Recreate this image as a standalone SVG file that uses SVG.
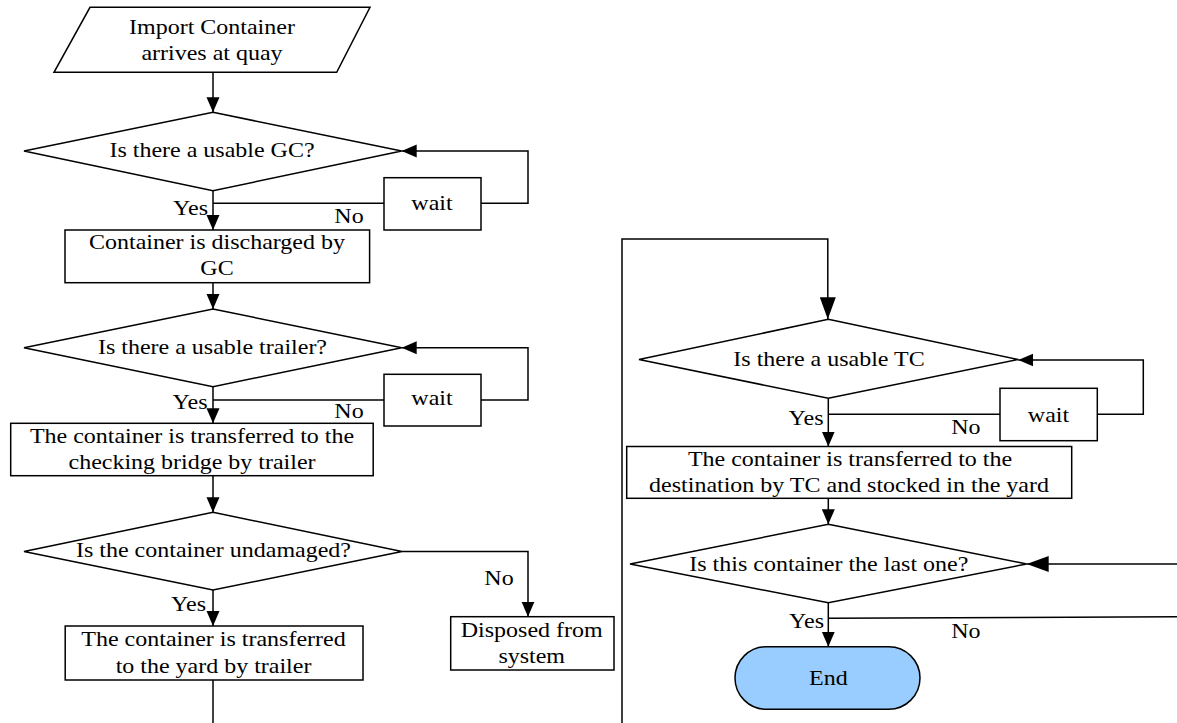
<svg xmlns="http://www.w3.org/2000/svg" width="1177" height="723" viewBox="0 0 1177 723">
<style>
.s{fill:#fff;stroke:#000;stroke-width:1.5}
.c{fill:none;stroke:#000;stroke-width:1.5}
text{font-family:"Liberation Serif","Times New Roman",serif;font-size:21.5px;fill:#000}
.m{text-anchor:middle}
.e{text-anchor:end}
</style>
<defs>
<marker id="a" markerUnits="userSpaceOnUse" markerWidth="16" markerHeight="14" refX="15" refY="7" orient="auto"><path d="M0,0.5 L15,7 L0,13.5 z" fill="#000"/></marker>
<marker id="b" markerUnits="userSpaceOnUse" markerWidth="23" markerHeight="16" refX="22" refY="8" orient="auto"><path d="M0,0 L22,8 L0,16 z" fill="#000"/></marker>
</defs>
<rect width="1177" height="723" fill="#fff"/>
<g id="connectors">
<path class="c" d="M213,72.3 V112.3" marker-end="url(#a)"/>
<path class="c" d="M213,190.7 V230" marker-end="url(#a)"/>
<path class="c" d="M213,203.3 H384"/>
<path class="c" d="M481,203.3 H528 V151 H401.7" marker-end="url(#a)"/>
<path class="c" d="M213,282.7 V309" marker-end="url(#a)"/>
<path class="c" d="M213,386.7 V423.3" marker-end="url(#a)"/>
<path class="c" d="M213,400 H384"/>
<path class="c" d="M481,400 H528 V347.7 H401.7" marker-end="url(#a)"/>
<path class="c" d="M213,475.7 V512.3" marker-end="url(#a)"/>
<path class="c" d="M213,590 V626" marker-end="url(#a)"/>
<path class="c" d="M402,551.5 H528 V616.7" marker-end="url(#a)"/>
<path class="c" d="M213,680 V723"/>
<path class="c" d="M622,723 V239 H827.8 V319.3" marker-end="url(#b)"/>
<path class="c" d="M828.3,398.3 V446.5" marker-end="url(#a)"/>
<path class="c" d="M828.3,414.3 H1000"/>
<path class="c" d="M1097.3,414.3 H1143.3 V360 H1018.3" marker-end="url(#a)"/>
<path class="c" d="M828.3,498.3 V524.3" marker-end="url(#a)"/>
<path class="c" d="M828.3,602.7 V646.7" marker-end="url(#a)"/>
<path class="c" d="M828.3,618.3 L1177,616.7"/>
<path class="c" d="M1177,564 H1026.7" marker-end="url(#b)"/>
</g>
<g id="start">
<polygon class="s" points="90,7.3 370,7.3 336.7,72.3 54,72.3"/>
<text class="m" transform="translate(212,34) scale(1.116,1)">Import Container</text>
<text class="m" transform="translate(212,60) scale(1.116,1)">arrives at quay</text>
</g>
<g id="d_gc">
<polygon class="s" points="213,112.3 401.7,151 213,190.7 24,151"/>
<text class="m" transform="translate(212,157.3) scale(1.116,1)">Is there a usable GC?</text>
</g>
<g id="wait1">
<rect class="s" x="384" y="177.7" width="97" height="52.3"/>
<text class="m" transform="translate(432,210) scale(1.116,1)">wait</text>
</g>
<g id="r_discharge">
<rect class="s" x="65" y="230" width="304.6" height="52.7"/>
<text class="m" transform="translate(217,249.3) scale(1.116,1)">Container is discharged by</text>
<text class="m" transform="translate(217,275) scale(1.116,1)">GC</text>
</g>
<g id="d_trailer">
<polygon class="s" points="213,309 401.7,347.7 213,386.7 24,347.7"/>
<text class="m" transform="translate(212.5,354.3) scale(1.116,1)">Is there a usable trailer?</text>
</g>
<g id="wait2">
<rect class="s" x="384" y="374.3" width="97" height="51.7"/>
<text class="m" transform="translate(432,405) scale(1.116,1)">wait</text>
</g>
<g id="r_bridge">
<rect class="s" x="10.7" y="423.3" width="362.5" height="52.4"/>
<text class="m" transform="translate(192,442.7) scale(1.116,1)">The container is transferred to the</text>
<text class="m" transform="translate(192,469.3) scale(1.116,1)">checking bridge by trailer</text>
</g>
<g id="d_undamaged">
<polygon class="s" points="213,512.3 402,551.5 213,590 24,551.5"/>
<text class="m" transform="translate(213.5,557.3) scale(1.116,1)">Is the container undamaged?</text>
</g>
<g id="r_yard">
<rect class="s" x="65.2" y="626" width="297.8" height="54"/>
<text class="m" transform="translate(213.5,646) scale(1.116,1)">The container is transferred</text>
<text class="m" transform="translate(213.5,672.7) scale(1.116,1)">to the yard by trailer</text>
</g>
<g id="r_disposed">
<rect class="s" x="450.7" y="616.7" width="163.3" height="53.3"/>
<text class="m" transform="translate(531.7,636.7) scale(1.116,1)">Disposed from</text>
<text class="m" transform="translate(531.7,663.3) scale(1.116,1)">system</text>
</g>
<g id="d_tc">
<polygon class="s" points="828.3,319.3 1018.3,359.5 828.3,398.3 639,359.5"/>
<text class="m" transform="translate(829,366) scale(1.116,1)">Is there a usable TC</text>
</g>
<g id="wait3">
<rect class="s" x="1000" y="388.3" width="97.3" height="52.4"/>
<text class="m" transform="translate(1048.5,421.7) scale(1.116,1)">wait</text>
</g>
<g id="r_stock">
<rect class="s" x="626.7" y="446.5" width="445" height="51.8"/>
<text class="m" transform="translate(850,465.7) scale(1.116,1)">The container is transferred to the</text>
<text class="m" transform="translate(849,491.7) scale(1.116,1)">destination by TC and stocked in the yard</text>
</g>
<g id="d_last">
<polygon class="s" points="828.3,524.3 1026.7,564 828.3,602.7 630,564"/>
<text class="m" transform="translate(828.8,570.7) scale(1.116,1)">Is this container the last one?</text>
</g>
<g id="end">
<rect x="735" y="646.7" width="185" height="62.6" rx="31.3" ry="31.3" fill="#99CCFF" stroke="#000" stroke-width="1.5"/>
<text class="m" transform="translate(828.3,685) scale(1.116,1)">End</text>
</g>
<g id="labels">
<text class="e" transform="translate(208,215) scale(1.116,1)">Yes</text>
<text class="m" transform="translate(349,223.3) scale(1.116,1)">No</text>
<text class="e" transform="translate(207.5,409) scale(1.116,1)">Yes</text>
<text class="m" transform="translate(349,418.3) scale(1.116,1)">No</text>
<text class="e" transform="translate(206,610.7) scale(1.116,1)">Yes</text>
<text class="m" transform="translate(499,585) scale(1.116,1)">No</text>
<text class="e" transform="translate(823.5,425) scale(1.116,1)">Yes</text>
<text class="m" transform="translate(965.8,434) scale(1.116,1)">No</text>
<text class="e" transform="translate(824,628.3) scale(1.116,1)">Yes</text>
<text class="m" transform="translate(965.8,638.3) scale(1.116,1)">No</text>
</g>
</svg>
